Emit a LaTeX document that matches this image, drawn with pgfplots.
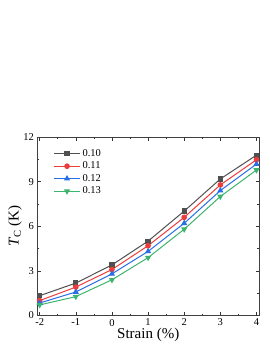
\documentclass[border=0pt]{standalone}
\usepackage{fontspec}
\setmainfont{Liberation Serif}
\usepackage{pgfplots}
\pgfplotsset{compat=1.18}
\definecolor{cgray}{RGB}{80,80,80}
\definecolor{cred}{RGB}{238,60,60}
\definecolor{cblue}{RGB}{40,110,230}
\definecolor{cgreen}{RGB}{60,180,110}
\begin{document}
\begin{tikzpicture}
\useasboundingbox (-37.5pt,-33.5pt) rectangle (232.5pt,315.5pt);
\begin{axis}[
  width=221.5pt, height=178.5pt, scale only axis,
  xmin=-2.06, xmax=4.07, ymin=0, ymax=12,
  xtick={-2,-1,0,1,2,3,4}, ytick={0,3,6,9,12},
  minor x tick num=1, minor y tick num=1,
  tick align=inside,
  major tick length=3.5pt, minor tick length=2pt,
  tick style={black!80, line width=0.6pt},
  axis line style={black!75, line width=0.8pt},
  /pgf/number format/assume math mode=true,
  tick label style={font=\fontsize{10.5}{12}\selectfont},
  label style={font=\fontsize{15}{17}\selectfont},
  xlabel={Strain (\%)},
  ylabel={\textit{T}\textsubscript{C} (K)},
  xlabel style={at={(axis description cs:0.5,-0.109)}, anchor=center},
  ylabel style={at={(axis description cs:-0.1016,0.5)}, anchor=center},
  legend style={draw=none, fill=none, at={(0.067,0.948)}, anchor=north west,
    font=\fontsize{10.5}{12}\selectfont, row sep=0pt, inner sep=1pt},
  legend cell align=left,
  legend image code/.code={\draw[mark repeat=2,mark phase=2] plot coordinates {(0pt,0pt) (13pt,0pt) (26pt,0pt)};},
  every axis plot/.append style={line width=1pt, mark size=2.3pt},
]
\addplot[cgray, mark=square*, mark size=2.1pt] coordinates {(-2,1.33) (-1,2.18) (0,3.4) (1,5.0) (2,7.02) (3,9.18) (4,10.78)};
\addlegendentry{0.10}
\addplot[cred, mark=*] coordinates {(-2,1.0) (-1,1.91) (0,3.09) (1,4.69) (2,6.6) (3,8.78) (4,10.47)};
\addlegendentry{0.11}
\addplot[cblue, mark=triangle*, mark size=2.6pt] coordinates {(-2,0.84) (-1,1.58) (0,2.8) (1,4.31) (2,6.2) (3,8.4) (4,10.18)};
\addlegendentry{0.12}
\addplot[cgreen, mark=triangle*, mark options={rotate=180}, mark size=2.6pt] coordinates {(-2,0.71) (-1,1.27) (0,2.4) (1,3.89) (2,5.8) (3,8.0) (4,9.78)};
\addlegendentry{0.13}
\end{axis}
\end{tikzpicture}
\end{document}
